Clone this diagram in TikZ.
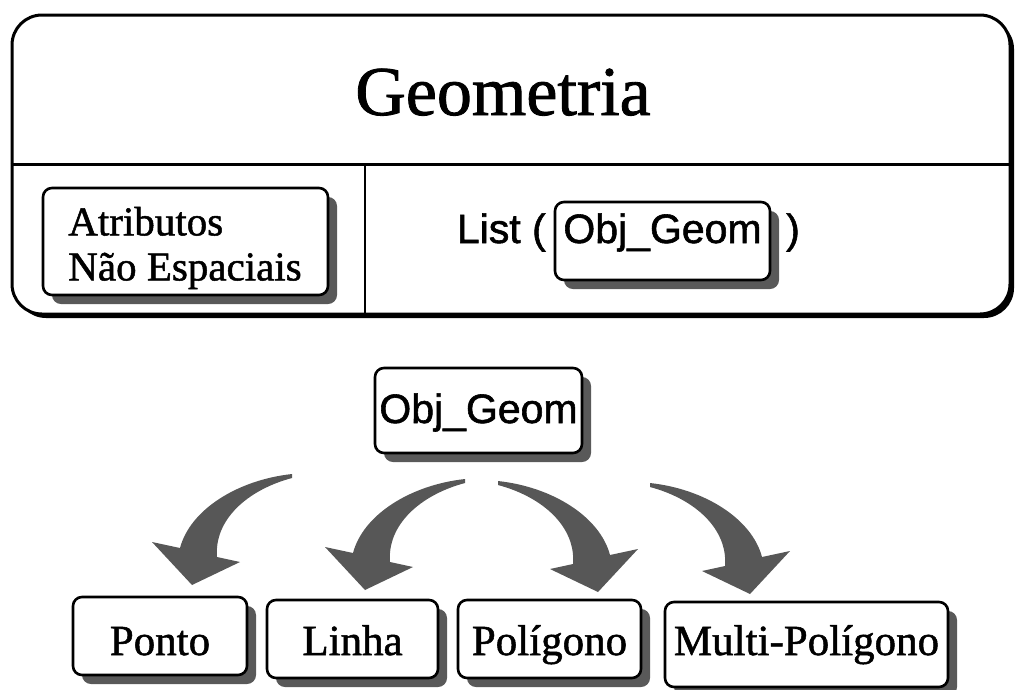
\documentclass[tikz,border=0pt]{standalone}
\usepackage{fontspec}
\setmainfont{Liberation Serif}[FakeBold=1.2]
\setsansfont{Liberation Sans}[FakeBold=1.4]
\usetikzlibrary{shadows}
\tikzset{
  shadowed/.style={drop shadow={shadow xshift=9pt, shadow yshift=-9pt, fill=black!65, opacity=1}},
  roundbox/.style={draw, line width=2.6, rounded corners=9, fill=white, shadowed, inner sep=0pt},
  serifbox/.style={roundbox, font=\fontsize{43}{48}\selectfont},
  sansbox/.style={roundbox, font=\sffamily\fontsize{41}{46}\selectfont},
  divider/.style={line width=2.4},
  arrowfill/.style={fill=black!66},
  fatarrow/.pic={
    \fill[arrowfill] (0,0) -- (-40,-43) -- (-12,-37)
      .. controls (-2,-75) and (45,-105) .. (100,-111) -- (100,-107)
      .. controls (55,-95) and (22,-65) .. (25,-28) -- (48,-23) -- cycle;
  }
}
\begin{document}
\begin{tikzpicture}[x=1pt,y=-1pt]
\useasboundingbox (0,0) rectangle (1017,689);

% main box
\node[draw, line width=3, rounded corners=30, minimum width=998, minimum height=299,
      drop shadow={shadow xshift=4pt, shadow yshift=-4pt, fill=black, opacity=1}, fill=white]
  (main) at (511,164.5) {};
\draw[divider] (main.west) -- (main.east);
\coordinate (vtop) at (365,164.5);
\draw[divider] (vtop) -- (vtop |- main.south);

\node[anchor=base, font=\fontsize{70}{84}\selectfont, inner sep=0pt] (title) at (503,115) {Geometria};

% attributes box
\node[roundbox, minimum width=285, minimum height=107] (attrbox) at (185.5,241.5) {};
\node[align=left, font=\fontsize{41}{45}\selectfont, inner sep=0pt] (attrtext) at (185,248)
  {Atributos\\Não Espaciais};

% list
\node[anchor=base east, font=\sffamily\fontsize{41}{46}\selectfont, inner sep=0pt] (listl) at (546,243) {List (};
\node[sansbox, minimum width=215, minimum height=78, text height=32, text depth=28] (listobj) at (662.5,241) {Obj\_Geom};
\node[anchor=base west, font=\sffamily\fontsize{41}{46}\selectfont, inner sep=0pt] (listr) at (786,243) {)};

% middle object
\node[sansbox, minimum width=207, minimum height=85, text height=31, text depth=6] (obj) at (478.5,410.5) {Obj\_Geom};

% bottom boxes
\node[serifbox, minimum width=174, minimum height=78, text height=44, text depth=6] (ponto) at (160,636) {Ponto};
\node[serifbox, minimum width=171, minimum height=78, text height=38, text depth=6] (linha) at (352.5,639) {Linha};
\node[serifbox, minimum width=183, minimum height=78, text height=38, text depth=6] (poli) at (549.5,639) {Polígono};
\node[serifbox, minimum width=283, minimum height=85, text height=27, text depth=6] (multi) at (806.5,644.5) {Multi-Polígono};

% fat curved arrows
\pic at (192,585) {fatarrow};
\pic at (365,590) {fatarrow};
\pic[xscale=-1] at (598,592) {fatarrow};
\pic[xscale=-1] at (750,594) {fatarrow};
\end{tikzpicture}
\end{document}
